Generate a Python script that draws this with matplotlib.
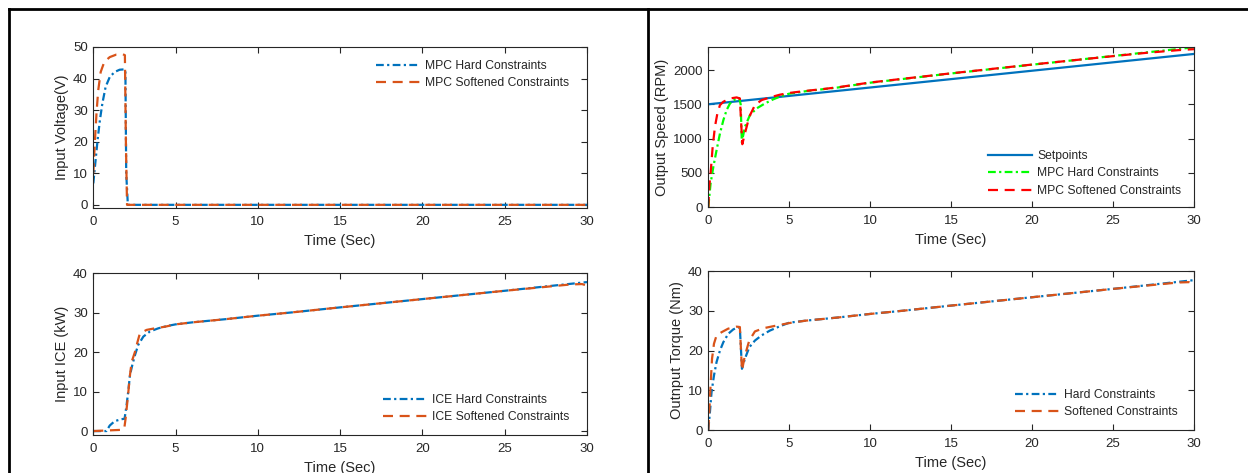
import matplotlib
matplotlib.use("Agg")
import matplotlib.pyplot as plt
from matplotlib.lines import Line2D

plt.rcParams['font.family'] = ['Liberation Sans', 'DejaVu Sans']
plt.rcParams['axes.edgecolor'] = '#262626'
plt.rcParams['xtick.color'] = '#262626'
plt.rcParams['ytick.color'] = '#262626'
plt.rcParams['text.color'] = '#262626'
plt.rcParams['axes.labelcolor'] = '#262626'

BLUE = '#0072BD'
ORANGE = '#D95319'

# --- input voltage (V) ---
t_volt_hard = [0, 0.14, 0.26, 0.4, 0.55, 0.75, 1.0, 1.3, 1.6, 1.85, 1.95, 2.0, 2.1, 30]
volt_hard = [6.8, 14.2, 20.5, 26.8, 32.1, 37.4, 40.5, 42.1, 42.8, 42.9, 42.7, 10, 0, 0]
t_volt_soft = [0, 0.1, 0.2, 0.3, 0.45, 0.67, 1.0, 1.4, 1.8, 1.92, 1.98, 2.05, 30]
volt_soft = [10, 20.5, 29.5, 36.3, 42.1, 45.3, 46.8, 47.6, 47.7, 47.4, 20, 0, 0]

# --- input ICE power (kW) ---
t_ice_hard = [0, 0.8, 1.0, 1.3, 1.7, 1.9, 2.02, 2.12, 2.23, 2.37, 2.53, 2.73, 3.04, 3.44,
              3.95, 4.5, 5, 6, 7, 8, 10, 12, 15, 20, 25, 30]
ice_hard = [0, 0, 1.4, 2.5, 3.0, 3.1, 6.5, 9.9, 14.2, 16.7, 19.2, 21.8, 23.9, 25.2,
            26.0, 26.6, 27.0, 27.5, 27.9, 28.3, 29.2, 30.0, 31.3, 33.4, 35.5, 37.7]
t_ice_soft = [0, 1.7, 1.88, 1.96, 2.09, 2.23, 2.33, 2.53, 2.69, 2.83, 3.24, 3.74, 4.35,
              5, 6, 7, 8, 10, 12, 15, 20, 25, 27, 29, 29.7, 30]
ice_soft = [0, 0.3, 0.6, 3.1, 8.2, 14.2, 17.5, 20.0, 22.6, 24.7, 25.6, 26.0, 26.4,
            27.0, 27.5, 27.9, 28.3, 29.2, 30.0, 31.3, 33.4, 35.5, 36.3, 37.1, 37.2, 36.8]

# --- output speed (RPM) ---
t_setpoint = [0, 30]
speed_setpoint = [1500, 2235]
t_speed_hard = [0, 0.14, 0.31, 0.51, 0.72, 0.93, 1.13, 1.34, 1.65, 1.91, 2.0, 2.07, 2.26,
                2.57, 2.98, 3.5, 4.0, 4.5, 5, 6, 7, 8, 10, 15, 20, 25, 30]
speed_hard = [0, 341, 585, 829, 1073, 1268, 1415, 1512, 1571, 1590, 1500, 945, 1171,
              1341, 1439, 1512, 1571, 1620, 1655, 1690, 1718, 1745, 1815, 1950, 2078, 2205, 2332]
t_speed_soft = [0, 0.06, 0.14, 0.27, 0.41, 0.56, 0.72, 0.93, 1.34, 1.75, 1.95, 2.1, 2.26,
                2.53, 2.88, 3.29, 3.8, 4.42, 5, 6, 7, 8, 10, 15, 20, 25, 27, 29, 30]
speed_soft = [0, 293, 488, 878, 1171, 1366, 1488, 1537, 1585, 1600, 1585, 917, 1073,
              1317, 1488, 1561, 1600, 1640, 1665, 1695, 1720, 1748, 1818, 1952, 2080, 2203, 2250, 2290, 2305]

# --- output torque (Nm) ---
t_torque_hard = [0, 0.1, 0.2, 0.35, 0.51, 0.72, 0.93, 1.23, 1.54, 1.85, 1.95, 2.08, 2.26,
                 2.53, 2.88, 3.29, 3.8, 4.42, 5, 6, 7, 8, 10, 12, 15, 20, 25, 30]
torque_hard = [0, 4.5, 9.5, 13.7, 17.1, 20.0, 22.1, 24.2, 25.3, 25.9, 25.6, 15.4, 17.9,
               20.8, 22.5, 23.8, 25.0, 26.1, 27.0, 27.5, 27.9, 28.3, 29.2, 30.0, 31.3, 33.4, 35.5, 37.7]
t_torque_soft = [0, 0.06, 0.14, 0.23, 0.35, 0.51, 0.82, 1.23, 1.75, 1.95, 2.08, 2.26, 2.53,
                 2.88, 3.4, 4.0, 5, 6, 7, 8, 10, 12, 15, 20, 25, 27, 29, 29.7, 30]
torque_soft = [0, 4.5, 11.2, 17.9, 21.7, 23.8, 24.6, 25.5, 26.0, 25.9, 15.0, 18.7, 22.5,
               24.8, 25.6, 26.1, 26.9, 27.5, 27.9, 28.3, 29.2, 30.0, 31.3, 33.4, 35.5, 36.3, 37.1, 37.2, 36.8]

time_ticks = [0, 5, 10, 15, 20, 25, 30]

DASHDOT = (0, (3.5, 1.5, 1, 1.5))
DASHED = (0, (4.5, 3))
LW = 1.6

W, H = 1248, 473
fig = plt.figure(figsize=(W / 100, H / 100), dpi=100)


def px_axes(x0, y0, x1, y1):
    # axes box given in pixel corners (top-left origin)
    return fig.add_axes([x0 / W, 1 - y1 / H, (x1 - x0) / W, (y1 - y0) / H])


def style(ax, ylabel):
    ax.set_xlim(0, 30)
    ax.set_xticks(time_ticks)
    ax.tick_params(direction='in', top=True, right=True, length=4, width=0.8,
                   labelsize=9.5)
    ax.tick_params(axis='x', pad=6)
    ax.tick_params(axis='y', pad=4)
    for s in ax.spines.values():
        s.set_linewidth(0.8)
    ax.set_xlabel('Time (Sec)', fontsize=10.5, labelpad=4)
    ax.set_ylabel(ylabel, fontsize=10.5, labelpad=3)


def legend(ax, x, y):
    ax.legend(loc='upper left', bbox_to_anchor=(x / W, 1 - y / H),
              bbox_transform=fig.transFigure, frameon=False, fontsize=8.7,
              borderpad=0, borderaxespad=0, handlelength=3.6, handletextpad=0.45,
              labelspacing=0.45)


# input voltage
ax1 = px_axes(93.3, 47, 587, 208)
ax1.plot(t_volt_hard, volt_hard, color=BLUE, lw=LW, ls=DASHDOT, label='MPC Hard Constraints')
ax1.plot(t_volt_soft, volt_soft, color=ORANGE, lw=LW, ls=DASHED, label='MPC Softened Constraints')
ax1.set_ylim(-1, 50)
ax1.set_yticks([0, 10, 20, 30, 40, 50])
style(ax1, 'Input Voltage(V)')
legend(ax1, 376, 60)

# input ICE
ax2 = px_axes(93.3, 273, 587, 435)
ax2.plot(t_ice_hard, ice_hard, color=BLUE, lw=LW, ls=DASHDOT, label='ICE Hard Constraints')
ax2.plot(t_ice_soft, ice_soft, color=ORANGE, lw=LW, ls=DASHED, label='ICE Softened Constraints')
ax2.set_ylim(-1, 40)
ax2.set_yticks([0, 10, 20, 30, 40])
style(ax2, 'Input ICE (kW)')
legend(ax2, 383, 394)

# output speed
ax3 = px_axes(708.3, 47.3, 1194, 207)
ax3.plot(t_setpoint, speed_setpoint, color=BLUE, lw=LW, ls='-', label='Setpoints')
ax3.plot(t_speed_hard, speed_hard, color='#00FF00', lw=LW, ls=DASHDOT, label='MPC Hard Constraints')
ax3.plot(t_speed_soft, speed_soft, color='#FF0000', lw=LW, ls=DASHED, label='MPC Softened Constraints')
ax3.set_ylim(0, 2332)
ax3.set_yticks([0, 500, 1000, 1500, 2000])
style(ax3, 'Output Speed (RPM)')
legend(ax3, 988, 150)

# output torque
ax4 = px_axes(708.3, 271, 1194, 430)
ax4.plot(t_torque_hard, torque_hard, color=BLUE, lw=LW, ls=DASHDOT, label='Hard Constraints')
ax4.plot(t_torque_soft, torque_soft, color=ORANGE, lw=LW, ls=DASHED, label='Softened Constraints')
ax4.set_ylim(0, 40)
ax4.set_yticks([0, 10, 20, 30, 40])
style(ax4, 'Outnput Torque (Nm)')
legend(ax4, 1015, 389)

# panel frame lines
for xs, ys in [([9 / W, 1], [1 - 9 / H] * 2),
               ([9 / W] * 2, [0, 1 - 9 / H]),
               ([648 / W] * 2, [0, 1 - 9 / H])]:
    fig.add_artist(Line2D(xs, ys, color='black', lw=2.0, transform=fig.transFigure))

fig.savefig('out.png', dpi=100)
